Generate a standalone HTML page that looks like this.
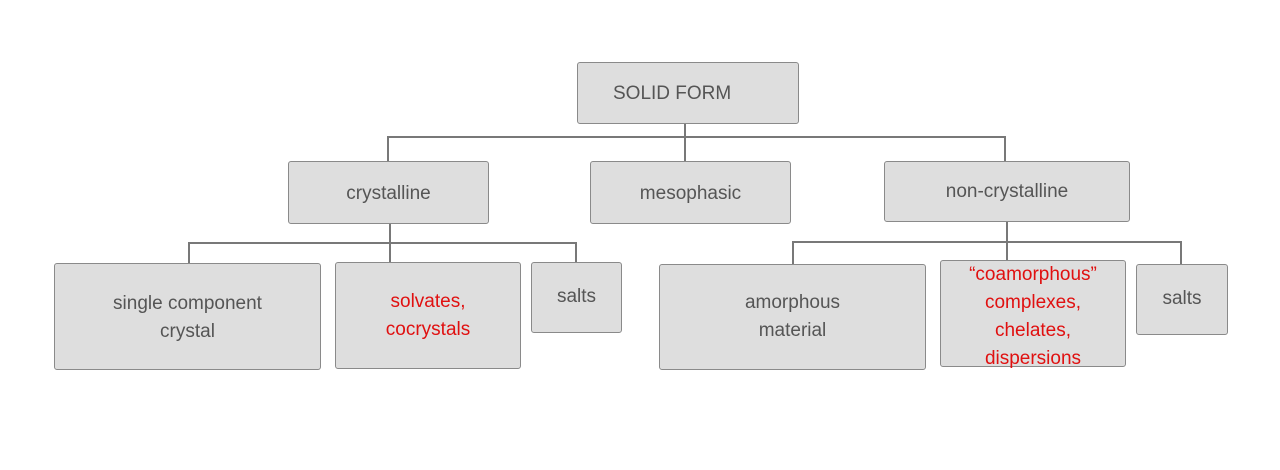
<!DOCTYPE html>
<html><head><style>
body{margin:0;width:1280px;height:470px;background:#fff;position:relative;overflow:hidden;font-family:"Liberation Sans",sans-serif}
.b{position:absolute;box-sizing:border-box;background:#dedede;border:1px solid #8a8a8a;border-radius:3px;display:flex;align-items:center;justify-content:center;text-align:center;color:#555;font-size:19px;line-height:28px}
.r{color:#e01010}
svg{position:absolute;left:0;top:0}
</style></head><body>
<svg width="1280" height="470"><g stroke="#787878" stroke-width="2" fill="none">
<path d="M388 161V137H1005V161M685 123V161"/>
<path d="M390 223V263M189 263V243H576V262"/>
<path d="M1007 221V260M793 264V242H1181V264"/>
</g></svg>
<div class="b" style="left:577px;top:62px;width:222px;height:62px;justify-content:flex-start;padding-left:35px;padding-top:2px">SOLID FORM</div>
<div class="b" style="left:288px;top:161px;width:201px;height:63px;padding-top:3px">crystalline</div>
<div class="b" style="left:590px;top:161px;width:201px;height:63px;padding-top:3px">mesophasic</div>
<div class="b" style="left:884px;top:161px;width:246px;height:61px">non-crystalline</div>
<div class="b" style="left:54px;top:263px;width:267px;height:107px;padding-top:2px">single component<br>crystal</div>
<div class="b r" style="left:335px;top:262px;width:186px;height:107px">solvates,<br>cocrystals</div>
<div class="b" style="left:531px;top:262px;width:91px;height:71px;padding-bottom:2px">salts</div>
<div class="b" style="left:659px;top:264px;width:267px;height:106px">amorphous<br>material</div>
<div class="b r" style="left:940px;top:260px;width:186px;height:107px;line-height:28px;padding-top:6px">“coamorphous”<br>complexes,<br>chelates,<br>dispersions</div>
<div class="b" style="left:1136px;top:264px;width:92px;height:71px;padding-bottom:2px">salts</div>
</body></html>
